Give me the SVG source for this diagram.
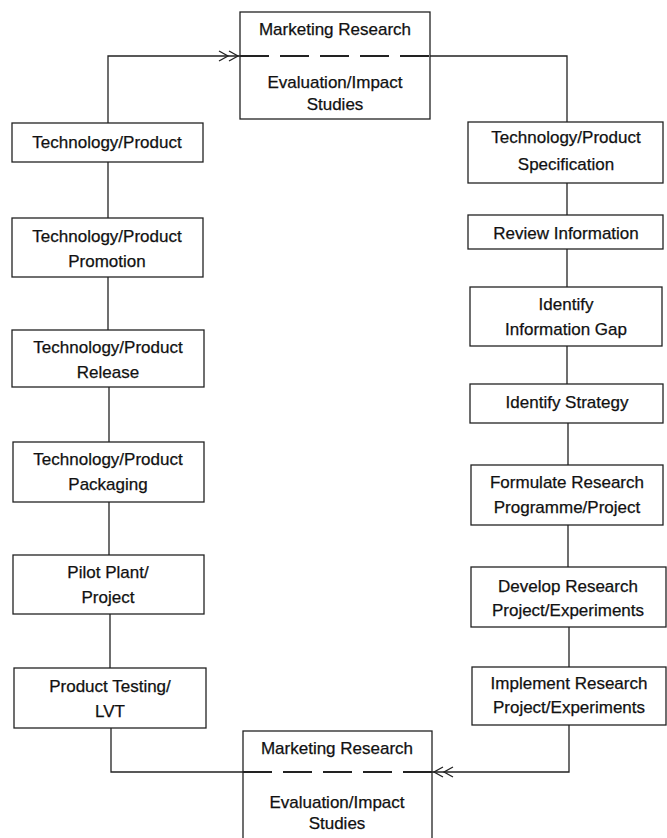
<svg xmlns="http://www.w3.org/2000/svg" width="667" height="838" viewBox="0 0 667 838">
<style>
.box{fill:#fff;stroke:#222;stroke-width:1.3}
.t{font-family:"Liberation Sans",Arial,sans-serif;font-size:17px;fill:#111;stroke:#111;stroke-width:0.25;text-anchor:middle}
.c{fill:none;stroke:#222;stroke-width:1.3}
.d{fill:none;stroke:#222;stroke-width:2;stroke-dasharray:29 11}
</style>
<rect width="667" height="838" fill="#fff"/>
<g id="connectors">
<path class="c" d="M108,123 V56 H240"/>
<path class="c" d="M219,51 L228,56 L219,61 M229,51 L238,56 L229,61"/>
<path class="c" d="M430,56 H567 V122"/>
<path class="c" d="M108,162 V218 M108,277 V330 M109,387 V442 M109,502 V555 M110,614 V668"/>
<path class="c" d="M111,728 V772 H243"/>
<path class="c" d="M567,183 V215 M567,249 V287 M567,346 V384 M568,423 V465 M568,525 V567 M569,627 V667"/>
<path class="c" d="M569,725 V772 H432"/>
<path class="c" d="M443,767 L434,772 L443,777 M453,767 L444,772 L453,777"/>
</g>
<g id="mr-top">
<rect class="box" x="240" y="12" width="190" height="107"/>
<line class="d" x1="240" y1="56" x2="430" y2="56"/>
<text class="t" x="335" y="35">Marketing Research</text>
<text class="t" x="335" y="88">Evaluation/Impact</text>
<text class="t" x="335" y="110">Studies</text>
</g>
<g id="mr-bottom">
<rect class="box" x="243" y="731" width="189" height="115"/>
<line class="d" x1="243" y1="772" x2="432" y2="772"/>
<text class="t" x="337" y="754">Marketing Research</text>
<text class="t" x="337" y="808">Evaluation/Impact</text>
<text class="t" x="337" y="829">Studies</text>
</g>
<g id="tp">
<rect class="box" x="12" y="123" width="191" height="39"/>
<text class="t" x="107" y="148">Technology/Product</text>
</g>
<g id="tp-promotion">
<rect class="box" x="12" y="218" width="191" height="59"/>
<text class="t" x="107" y="242">Technology/Product</text>
<text class="t" x="107" y="267">Promotion</text>
</g>
<g id="tp-release">
<rect class="box" x="12" y="330" width="192" height="57"/>
<text class="t" x="108" y="353">Technology/Product</text>
<text class="t" x="108" y="378">Release</text>
</g>
<g id="tp-packaging">
<rect class="box" x="13" y="442" width="191" height="60"/>
<text class="t" x="108" y="465">Technology/Product</text>
<text class="t" x="108" y="490">Packaging</text>
</g>
<g id="pilot">
<rect class="box" x="13" y="555" width="191" height="59"/>
<text class="t" x="108" y="578">Pilot Plant/</text>
<text class="t" x="108" y="603">Project</text>
</g>
<g id="testing">
<rect class="box" x="14" y="668" width="192" height="60"/>
<text class="t" x="110" y="692">Product Testing/</text>
<text class="t" x="110" y="717">LVT</text>
</g>
<g id="spec">
<rect class="box" x="468" y="122" width="195" height="61"/>
<text class="t" x="566" y="143">Technology/Product</text>
<text class="t" x="566" y="170">Specification</text>
</g>
<g id="review">
<rect class="box" x="468" y="215" width="195" height="34"/>
<text class="t" x="566" y="239">Review Information</text>
</g>
<g id="gap">
<rect class="box" x="470" y="287" width="192" height="59"/>
<text class="t" x="566" y="310">Identify</text>
<text class="t" x="566" y="335">Information Gap</text>
</g>
<g id="strategy">
<rect class="box" x="470" y="384" width="193" height="39"/>
<text class="t" x="567" y="408">Identify Strategy</text>
</g>
<g id="formulate">
<rect class="box" x="471" y="465" width="192" height="60"/>
<text class="t" x="567" y="488">Formulate Research</text>
<text class="t" x="567" y="513">Programme/Project</text>
</g>
<g id="develop">
<rect class="box" x="471" y="567" width="195" height="60"/>
<text class="t" x="568" y="592">Develop Research</text>
<text class="t" x="568" y="616">Project/Experiments</text>
</g>
<g id="implement">
<rect class="box" x="472" y="667" width="194" height="58"/>
<text class="t" x="569" y="689">Implement Research</text>
<text class="t" x="569" y="713">Project/Experiments</text>
</g>
</svg>
